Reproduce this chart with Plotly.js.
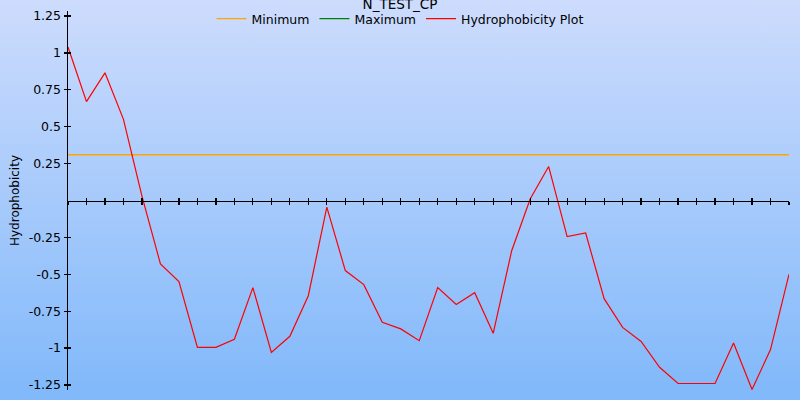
<!DOCTYPE html>
<html>
<head>
<meta charset="utf-8">
<script src="https://cdn.plot.ly/plotly-3.0.1.min.js"></script>
<style>
html,body{margin:0;padding:0;width:800px;height:400px;overflow:hidden;
background:linear-gradient(to bottom,#cddcfd 0%,#80b8fa 100%);}
#chart{width:800px;height:400px;}
</style>
</head>
<body>
<div id="chart"></div>
<script>
var chartTitle = "N_TEST_CP";
var positions = [1,2,3,4,5,6,7,8,9,10,11,12,13,14,15,16,17,18,19,20,21,22,23,24,25,26,27,28,29,30,31,32,33,34,35,36,37,38,39,40];
var hydrophobicity = [1.04,0.67,0.865,0.55,0.03,-0.43,-0.55,-0.995,-0.995,-0.94,-0.59,-1.03,-0.92,-0.645,-0.045,-0.475,-0.57,-0.825,-0.87,-0.95,-0.59,-0.705,-0.625,-0.9,-0.34,0.01,0.23,-0.245,-0.22,-0.665,-0.86,-0.955,-1.13,-1.24,-1.24,-1.24,-0.965,-1.28,-1.01,-0.5];
var minimumValue = 0.31;
var minimumX = [1,40];
var minimumY = [minimumValue, minimumValue];
var maximumX = [1];
var maximumY = [null];
var yTickVals = [-1.25,-1,-0.75,-0.5,-0.25,0.25,0.5,0.75,1,1.25];
var yTickText = ["-1.25","-1","-0.75","-0.5","-0.25","0.25","0.5","0.75","1","1.25"];

var font = "DejaVu Sans, Verdana, sans-serif";
var yRange = [-1.284,1.284];
var xRange = [1,40];

var traces = [
  {x:minimumX, y:minimumY, mode:"lines", name:"Minimum", line:{color:"#ffa500", width:1.3}},
  {x:maximumX, y:maximumY, mode:"lines", name:"Maximum", line:{color:"#008000", width:1.3}},
  {x:positions, y:hydrophobicity, mode:"lines", name:"Hydrophobicity Plot", line:{color:"#ff0000", width:1.2}},
  {x:[], y:[], xaxis:"x2", yaxis:"y2", showlegend:false, hoverinfo:"skip"}
];

var layout = {
  width:800, height:400,
  paper_bgcolor:"rgba(0,0,0,0)", plot_bgcolor:"rgba(0,0,0,0)",
  margin:{l:68, r:11, t:11, b:10, pad:0, autoexpand:false},
  font:{family:font, size:12, color:"#000"},
  title:{text:chartTitle, font:{family:font, size:13.5, color:"#000"}, x:0.5, xanchor:"center", xref:"container", y:1.0, yref:"container", yanchor:"top", pad:{t:0,b:0}},
  showlegend:true,
  legend:{orientation:"h", x:0.5, xanchor:"center", xref:"container", y:0.99, yref:"container", yanchor:"top", bgcolor:"rgba(0,0,0,0)",
          font:{family:font, size:12.5, color:"#000"}},
  xaxis:{range:xRange, anchor:"free", position:0.5, showgrid:false, zeroline:false, showline:true, linecolor:"#000", linewidth:1.5,
         tickmode:"linear", tick0:1, dtick:1, ticks:"outside", ticklen:3, tickwidth:1.2, tickcolor:"#000", showticklabels:false, fixedrange:true},
  yaxis:{range:yRange, showgrid:false, zeroline:false, showline:true, linecolor:"#000", linewidth:1.5,
         tickmode:"array", tickvals:yTickVals, ticktext:yTickText, ticks:"outside", ticklen:3, tickwidth:1.2, tickcolor:"#000",
         tickfont:{family:font, size:12.5, color:"#000"},
         title:{text:"Hydrophobicity", font:{family:font, size:12, color:"#000"}, standoff:6}, fixedrange:true},
  xaxis2:{range:xRange, overlaying:"x", anchor:"free", position:0.5, showgrid:false, zeroline:false, showline:false,
          tickmode:"linear", tick0:1, dtick:1, ticks:"inside", ticklen:3, tickwidth:1.2, tickcolor:"#000", showticklabels:false, fixedrange:true},
  yaxis2:{range:yRange, overlaying:"y", anchor:"x", side:"left", showgrid:false, zeroline:false, showline:false,
          tickmode:"array", tickvals:yTickVals, ticks:"inside", ticklen:3, tickwidth:1.2, tickcolor:"#000", showticklabels:false, fixedrange:true}
};

Plotly.newPlot("chart", traces, layout, {displayModeBar:false, staticPlot:true});
</script>
</body>
</html>
